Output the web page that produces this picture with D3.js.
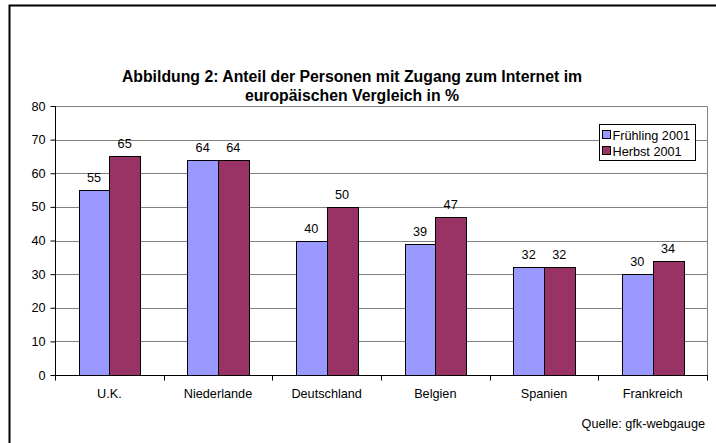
<!DOCTYPE html>
<html>
<head>
<meta charset="utf-8">
<script src="https://cdn.jsdelivr.net/npm/d3@7"></script>
<style>
  body { margin: 0; background: #fff; }
  text { font-family: Arial, "Liberation Sans", sans-serif; }
</style>
</head>
<body>
<svg width="716" height="443"></svg>
<script>
let categories = ["U.K.", "Niederlande", "Deutschland", "Belgien", "Spanien", "Frankreich"];
let seriesNames = ["Frühling 2001", "Herbst 2001"];
let fruehling = [55, 64, 40, 39, 32, 30];
let herbst = [65, 64, 50, 47, 32, 34];
let yTicks = [0, 10, 20, 30, 40, 50, 60, 70, 80];
let colors = ["#9999ff", "#993366"];

let labelSize = "12.7px";
let svg = d3.select("svg");

// outer frame (cut off on right and bottom)
svg.append("path")
  .attr("d", "M9.5,450 L9.5,5.5 L730,5.5")
  .style("fill", "none")
  .style("stroke", "#000")
  .style("stroke-width", 2);

svg.append("text")
  .attr("x", 352)
  .attr("y", 82)
  .attr("text-anchor", "middle")
  .style("font-size", "15.8px")
  .style("font-weight", "bold")
  .text("Abbildung 2: Anteil der Personen mit Zugang zum Internet im");

svg.append("text")
  .attr("x", 352)
  .attr("y", 101)
  .attr("text-anchor", "middle")
  .style("font-size", "15.8px")
  .style("font-weight", "bold")
  .text("europäischen Vergleich in %");

let plotLeft = 55, plotRight = 707, plotTop = 106, plotBottom = 375;

let x = d3.scaleBand()
  .domain(categories)
  .range([plotLeft, plotRight])
  .paddingInner(0)
  .paddingOuter(0);

let x1 = d3.scaleBand()
  .domain([0, 1])
  .range([0, x.bandwidth()])
  .paddingOuter(0.77)
  .paddingInner(0);

let y = d3.scaleLinear()
  .domain([0, 80])
  .range([plotBottom, plotTop]);

// gridlines
svg.append("g")
  .selectAll("line")
  .data(yTicks.slice(1))
  .enter()
  .append("line")
  .attr("x1", plotLeft)
  .attr("x2", plotRight)
  .attr("y1", d => Math.round(y(d)) + 0.5)
  .attr("y2", d => Math.round(y(d)) + 0.5)
  .style("stroke", "#808080");

// plot area right border
svg.append("line")
  .attr("x1", plotRight + 0.5)
  .attr("x2", plotRight + 0.5)
  .attr("y1", Math.round(plotTop) + 0.5)
  .attr("y2", plotBottom)
  .style("stroke", "#808080");

let data = [];
categories.forEach((c, i) => {
  data.push({ cat: c, s: 0, v: fruehling[i] });
  data.push({ cat: c, s: 1, v: herbst[i] });
});

svg.append("g")
  .selectAll("rect")
  .data(data)
  .enter()
  .append("rect")
  .attr("x", d => Math.round(x(d.cat) + x1(d.s)) + 0.5)
  .attr("y", d => Math.round(y(d.v)) + 0.5)
  .attr("width", Math.round(x1.bandwidth()))
  .attr("height", d => Math.round(plotBottom) - Math.round(y(d.v)))
  .style("fill", d => colors[d.s])
  .style("stroke", "#000")
  .style("stroke-width", 1);

svg.append("g")
  .selectAll("text")
  .data(data)
  .enter()
  .append("text")
  .attr("x", d => x(d.cat) + x1(d.s) + x1.bandwidth() / 2)
  .attr("y", d => y(d.v) - 8)
  .attr("text-anchor", "middle")
  .style("font-size", labelSize)
  .text(d => d.v);

// y axis
let yAxis = svg.append("g")
  .attr("transform", "translate(" + (plotLeft + 0.5) + ",0)")
  .call(d3.axisLeft(y).tickValues(yTicks).tickSize(5).tickPadding(5));
yAxis.selectAll("text").style("font-size", labelSize).style("font-family", "Arial, Liberation Sans, sans-serif").attr("fill", "#000");
yAxis.selectAll("line").attr("stroke", "#000");
yAxis.select(".domain").attr("stroke", "#000").attr("d", "M0," + plotBottom + "V" + plotTop);

// x axis
let xAxis = svg.append("g")
  .attr("transform", "translate(0," + (plotBottom + 0.5) + ")");
xAxis.append("line")
  .attr("x1", plotLeft)
  .attr("x2", plotRight + 1)
  .style("stroke", "#000");
xAxis.selectAll(".tk")
  .data(d3.range(categories.length + 1))
  .enter()
  .append("line")
  .attr("x1", i => Math.round(plotLeft + i * x.bandwidth()) + 0.5)
  .attr("x2", i => Math.round(plotLeft + i * x.bandwidth()) + 0.5)
  .attr("y1", 0)
  .attr("y2", 5)
  .style("stroke", "#000");
xAxis.selectAll(".lbl")
  .data(categories)
  .enter()
  .append("text")
  .attr("x", d => x(d) + x.bandwidth() / 2)
  .attr("y", 22)
  .attr("text-anchor", "middle")
  .style("font-size", labelSize)
  .text(d => d);

// legend
let legend = svg.append("g").attr("transform", "translate(599.5,124.5)");
legend.append("rect")
  .attr("width", 96)
  .attr("height", 36)
  .style("fill", "#fff")
  .style("stroke", "#000");
seriesNames.forEach((n, i) => {
  legend.append("rect")
    .attr("x", 3)
    .attr("y", 6 + i * 16)
    .attr("width", 8)
    .attr("height", 8)
    .style("fill", colors[i])
    .style("stroke", "#000");
  legend.append("text")
    .attr("x", 13)
    .attr("y", 15 + i * 16)
    .style("font-size", labelSize)
    .text(n);
});

svg.append("text")
  .attr("x", 705)
  .attr("y", 428)
  .attr("text-anchor", "end")
  .style("font-size", labelSize)
  .text("Quelle: gfk-webgauge");
</script>
</body>
</html>
